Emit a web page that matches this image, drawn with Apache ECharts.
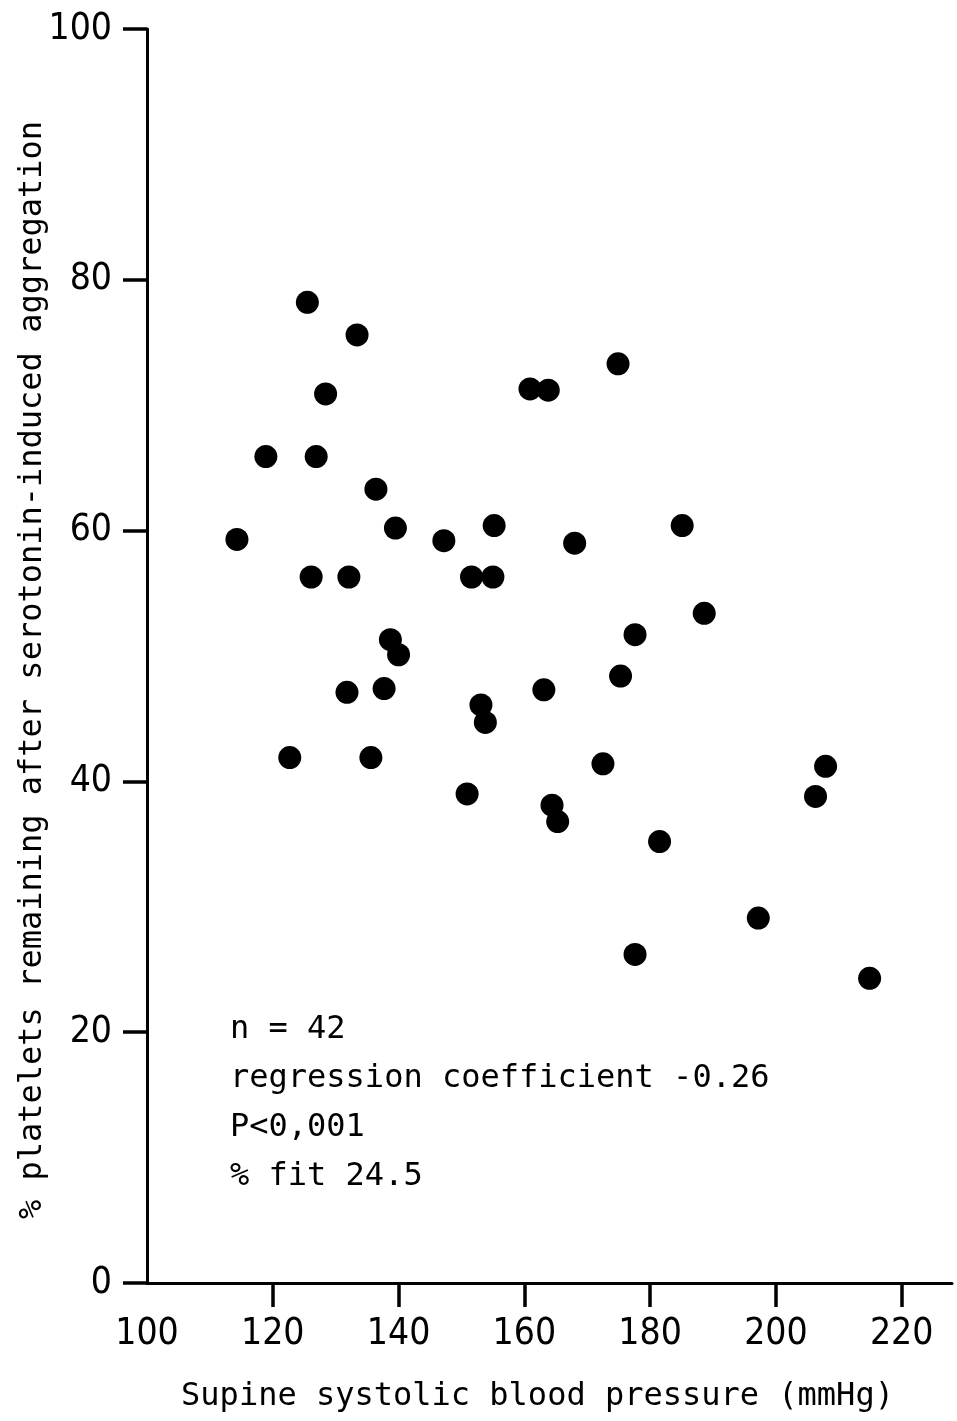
<!DOCTYPE html>
<html>
<head>
<meta charset="utf-8">
<script src="https://cdn.jsdelivr.net/npm/echarts@6/dist/echarts.min.js"></script>
<style>
html,body{margin:0;padding:0;background:#fff;}
#chart{width:957px;height:1421px;}
</style>
</head>
<body>
<div id="chart"></div>
<script>
// Supine systolic blood pressure (mmHg)
const pressure = [114.3,118.9,122.7,125.5,126.1,126.9,128.4,131.8,132.1,133.4,135.6,136.4,137.7,138.7,139.5,140.0,147.2,150.9,151.6,153.1,153.8,155.0,155.2,160.9,163.8,163.1,164.4,165.3,168.0,172.5,174.9,175.3,177.6,177.6,181.5,185.1,188.6,197.2,206.3,207.9,214.9];
// % platelets remaining after serotonin-induced aggregation
const platelets = [59.3,65.9,41.9,78.2,56.3,65.9,70.9,47.1,56.3,75.6,41.9,63.3,47.4,51.3,60.2,50.1,59.2,39.0,56.3,46.1,44.7,56.3,60.4,71.3,71.2,47.3,38.1,36.8,59.0,41.4,73.3,48.4,51.7,26.2,35.2,60.4,53.4,29.1,38.8,41.2,24.3];
const xTickLabels = [100,120,140,160,180,200,220];
const xTicks = [120,140,160,180,200,220];
const statsLines = ['n = 42','regression coefficient -0.26','P<0,001','% fit 24.5'];

const points = pressure.map((p,i)=>[p, platelets[i]]);
const tickFont = "'Liberation Sans Narrow','DejaVu Sans Condensed','Arial Narrow',sans-serif";
const monoFont = "'DejaVu Sans Mono','Liberation Mono',monospace";

const chart = echarts.init(document.getElementById('chart'), null, {renderer:'canvas'});
chart.setOption({
  backgroundColor:'#fff',
  animation:false,
  grid:{left:147, right:5, top:29, bottom:138},
  xAxis:{
    type:'value', min:100, max:228, interval:20,
    name:'Supine systolic blood pressure (mmHg)',
    nameLocation:'middle', nameGap:98, nameMoveOverlap:false,
    nameTextStyle:{fontFamily:monoFont, fontSize:32, color:'#000', verticalAlign:'top', padding:[0,24,0,0]},
    axisLine:{show:true, onZero:false, lineStyle:{color:'#000', width:3}},
    axisTick:{show:true, inside:false, length:24, customValues:xTicks, lineStyle:{color:'#000', width:3.5}},
    axisLabel:{margin:33, customValues:xTickLabels, fontFamily:tickFont, fontSize:37, color:'#000'},
    splitLine:{show:false}
  },
  yAxis:{
    type:'value', min:0, max:100, interval:20,
    name:'% platelets remaining after serotonin-induced aggregation',
    nameLocation:'middle', nameGap:98, nameMoveOverlap:false,
    nameTextStyle:{fontFamily:monoFont, fontSize:32, color:'#000', padding:[0,28,0,0]},
    axisLine:{show:true, onZero:false, lineStyle:{color:'#000', width:3}},
    axisTick:{show:true, inside:false, length:24, lineStyle:{color:'#000', width:3.5}},
    axisLabel:{margin:35, fontFamily:tickFont, fontSize:37, color:'#000'},
    splitLine:{show:false}
  },
  series:[{
    type:'scatter',
    data:points,
    symbol:'circle',
    symbolSize:23,
    itemStyle:{color:'#000', opacity:1},
    emphasis:{disabled:true}
  }],
  graphic:[{
    type:'text',
    left:230, top:1005,
    style:{
      text:statsLines.join('\n'),
      font:"32px " + monoFont,
      fill:'#000',
      lineHeight:49
    }
  }]
});
</script>
</body>
</html>
